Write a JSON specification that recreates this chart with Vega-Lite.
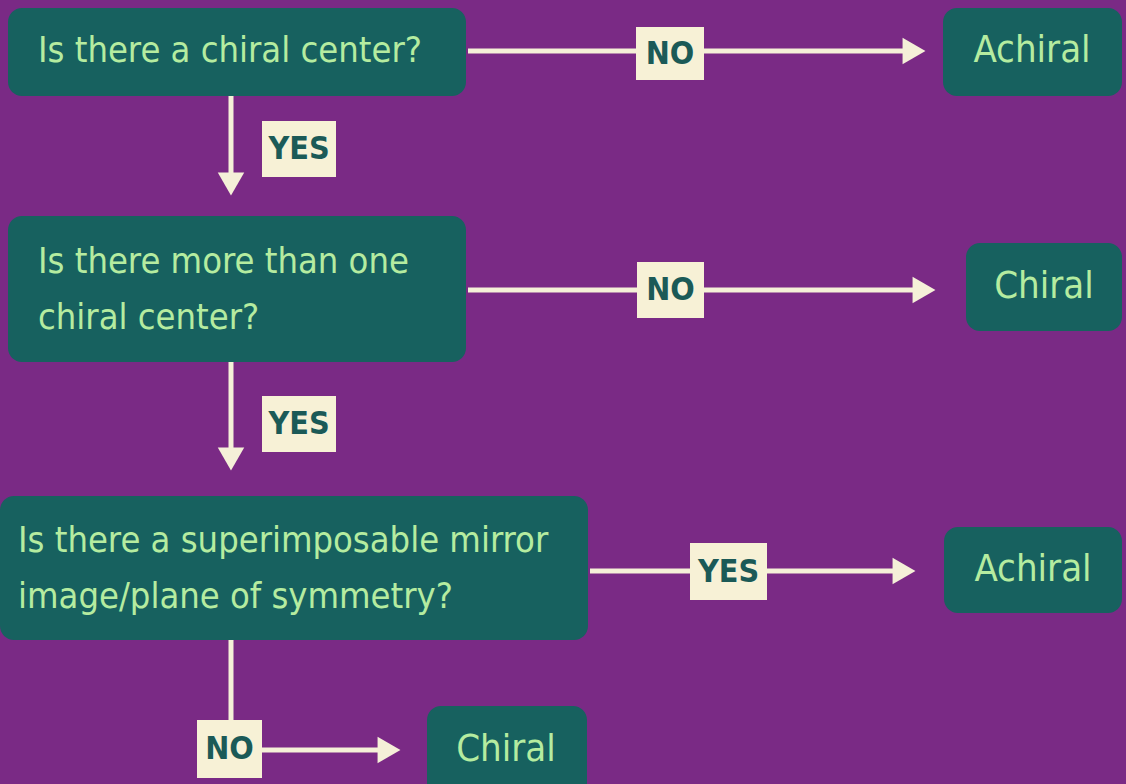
{
  "$schema": "https://vega.github.io/schema/vega-lite/v6.json",
  "width": 1126,
  "height": 784,
  "autosize": {"type": "fit", "contains": "padding"},
  "padding": 0,
  "background": "#7a2a85",
  "config": {"view": {"stroke": null}},
  "datasets": {
    "boxes": [
      {"x": 8, "x2": 466, "y": 8, "y2": 96},
      {"x": 943, "x2": 1122, "y": 8, "y2": 96},
      {"x": 8, "x2": 466, "y": 216, "y2": 362},
      {"x": 966, "x2": 1122, "y": 243, "y2": 331},
      {"x": 0, "x2": 588, "y": 496, "y2": 640},
      {"x": 944, "x2": 1122, "y": 527, "y2": 613},
      {"x": 427, "x2": 587, "y": 706, "y2": 800}
    ],
    "lines": [
      {"x": 468, "x2": 915, "y": 51, "y2": 51},
      {"x": 231, "x2": 231, "y": 96, "y2": 185},
      {"x": 468, "x2": 925, "y": 290, "y2": 290},
      {"x": 231, "x2": 231, "y": 362, "y2": 460},
      {"x": 590, "x2": 905, "y": 571, "y2": 571},
      {"x": 231, "x2": 231, "y": 640, "y2": 750},
      {"x": 231, "x2": 390, "y": 750, "y2": 750}
    ],
    "heads": [
      {"x": 914, "y": 51, "dir": "right"},
      {"x": 231, "y": 184, "dir": "down"},
      {"x": 924, "y": 290, "dir": "right"},
      {"x": 231, "y": 459, "dir": "down"},
      {"x": 904, "y": 571, "dir": "right"},
      {"x": 389, "y": 750, "dir": "right"}
    ],
    "tags": [
      {"x": 636, "x2": 704, "y": 27, "y2": 80, "label": "NO"},
      {"x": 262, "x2": 336, "y": 121, "y2": 177, "label": "YES"},
      {"x": 637, "x2": 704, "y": 262, "y2": 318, "label": "NO"},
      {"x": 262, "x2": 336, "y": 396, "y2": 452, "label": "YES"},
      {"x": 690, "x2": 767, "y": 543, "y2": 600, "label": "YES"},
      {"x": 197, "x2": 262, "y": 720, "y2": 778, "label": "NO"}
    ],
    "texts": [
      {"x": 38, "y": 51, "text": "Is there a chiral center?", "align": "left"},
      {"x": 1032, "y": 51, "text": "Achiral", "align": "center"},
      {"x": 38, "y": 262, "text": "Is there more than one\nchiral center?", "align": "left"},
      {"x": 1044, "y": 287, "text": "Chiral", "align": "center"},
      {"x": 18, "y": 541, "text": "Is there a superimposable mirror\nimage/plane of symmetry?", "align": "left"},
      {"x": 1033, "y": 570, "text": "Achiral", "align": "center"},
      {"x": 506, "y": 750, "text": "Chiral", "align": "center"}
    ]
  },
  "encoding": {
    "x": {"type": "quantitative", "scale": {"domain": [0, 1126]}, "axis": null},
    "y": {"type": "quantitative", "scale": {"domain": [784, 0]}, "axis": null}
  },
  "layer": [
    {
      "data": {"name": "boxes"},
      "mark": {"type": "rect", "fill": "#17615f", "cornerRadius": 14, "clip": true},
      "encoding": {"x": {"field": "x"}, "x2": {"field": "x2"}, "y": {"field": "y"}, "y2": {"field": "y2"}}
    },
    {
      "data": {"name": "lines"},
      "mark": {"type": "rule", "color": "#f5f0d8", "strokeWidth": 5},
      "encoding": {"x": {"field": "x"}, "x2": {"field": "x2"}, "y": {"field": "y"}, "y2": {"field": "y2"}}
    },
    {
      "data": {"name": "heads"},
      "transform": [{"filter": "datum.dir == 'right'"}],
      "mark": {"type": "point", "shape": "triangle-right", "filled": true, "color": "#f5f0d8", "opacity": 1, "size": 700},
      "encoding": {"x": {"field": "x"}, "y": {"field": "y"}}
    },
    {
      "data": {"name": "heads"},
      "transform": [{"filter": "datum.dir == 'down'"}],
      "mark": {"type": "point", "shape": "triangle-down", "filled": true, "color": "#f5f0d8", "opacity": 1, "size": 700},
      "encoding": {"x": {"field": "x"}, "y": {"field": "y"}}
    },
    {
      "data": {"name": "tags"},
      "mark": {"type": "rect", "fill": "#f7f1d6"},
      "encoding": {"x": {"field": "x"}, "x2": {"field": "x2"}, "y": {"field": "y"}, "y2": {"field": "y2"}}
    },
    {
      "data": {"name": "tags"},
      "transform": [{"calculate": "(datum.x + datum.x2) / 2", "as": "cx"}, {"calculate": "(datum.y + datum.y2) / 2", "as": "cy"}],
      "mark": {"type": "text", "font": "DejaVu Sans Condensed, Liberation Sans, sans-serif", "fontSize": 32, "fontWeight": "bold", "color": "#1b5a57", "baseline": "middle", "align": "center"},
      "encoding": {"x": {"field": "cx"}, "y": {"field": "cy"}, "text": {"field": "label"}}
    },
    {
      "data": {"name": "texts"},
      "transform": [{"filter": "datum.align == 'left'"}],
      "mark": {"type": "text", "font": "DejaVu Sans Condensed, Liberation Sans, sans-serif", "fontSize": 36, "color": "#b5eca0", "baseline": "middle", "align": "left", "lineBreak": "\n", "lineHeight": 56},
      "encoding": {"x": {"field": "x"}, "y": {"field": "y"}, "text": {"field": "text"}}
    },
    {
      "data": {"name": "texts"},
      "transform": [{"filter": "datum.align == 'center'"}],
      "mark": {"type": "text", "font": "DejaVu Sans Condensed, Liberation Sans, sans-serif", "fontSize": 38, "color": "#b5eca0", "baseline": "middle", "align": "center"},
      "encoding": {"x": {"field": "x"}, "y": {"field": "y"}, "text": {"field": "text"}}
    }
  ]
}
